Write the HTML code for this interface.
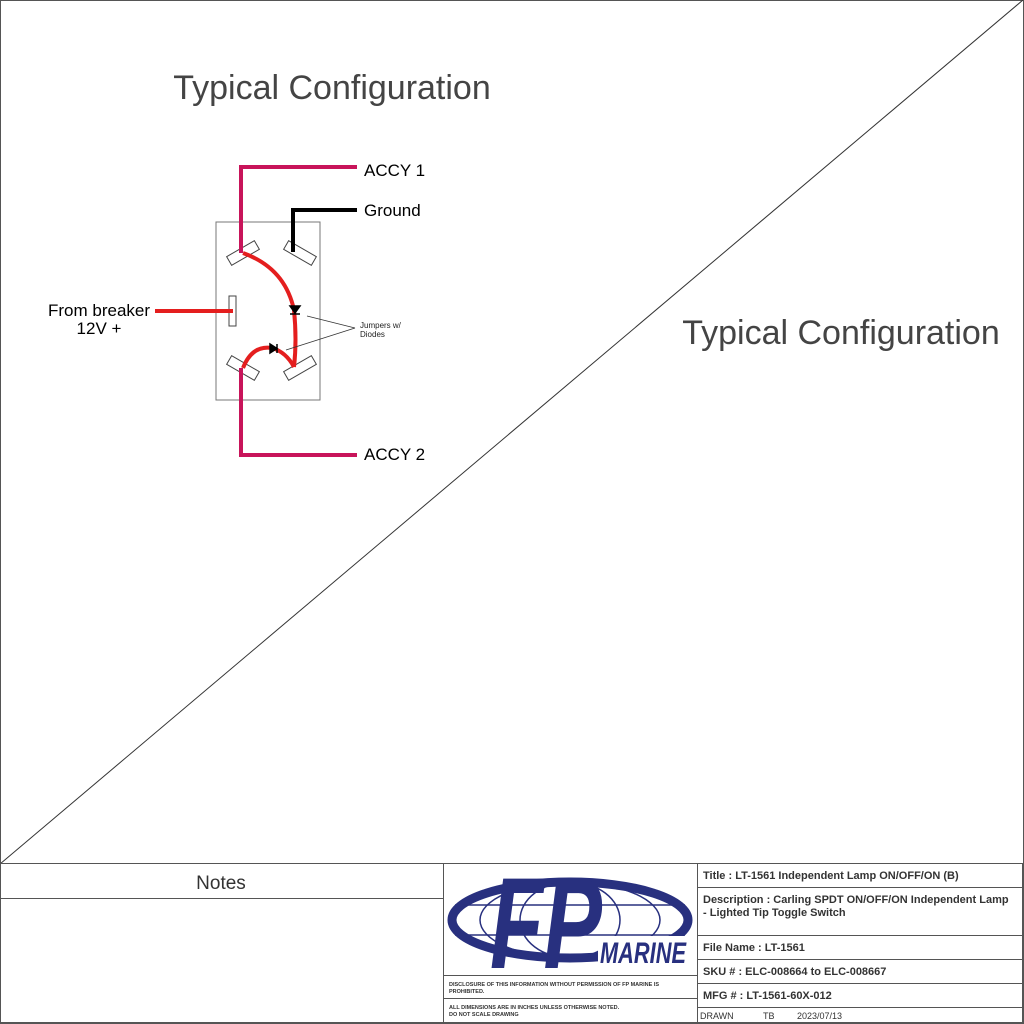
<!DOCTYPE html>
<html><head><style>body{margin:0;background:#fff}svg{display:block}text{font-family:"Liberation Sans",Arial,sans-serif}</style></head><body>
<svg width="1024" height="1024" viewBox="0 0 1024 1024" xmlns="http://www.w3.org/2000/svg">
<rect x="0.5" y="0.5" width="1023" height="1023" fill="#fff" stroke="#555"/>
<line x1="0" y1="864" x2="1023" y2="0" stroke="#333" stroke-width="1"/>
<text x="332" y="99" font-size="34" fill="#444" text-anchor="middle">Typical Configuration</text>
<text x="841" y="344" font-size="34" fill="#444" text-anchor="middle">Typical Configuration</text>
<!-- switch -->
<rect x="216" y="222" width="104" height="178" fill="none" stroke="#777"/>
<g fill="#fff" stroke="#444" stroke-width="1">
<rect x="-16" y="-5" width="32" height="10" transform="translate(243,253) rotate(-30)"/>
<rect x="-16" y="-5" width="32" height="10" transform="translate(300,253) rotate(30)"/>
<rect x="-16" y="-5" width="32" height="10" transform="translate(243,368) rotate(30)"/>
<rect x="-16" y="-5" width="32" height="10" transform="translate(300,368) rotate(-30)"/>
<rect x="229" y="296" width="7" height="30"/>
</g>
<polyline points="357,167 241,167 241,253" fill="none" stroke="#c8145a" stroke-width="4"/>
<polyline points="357,455 241,455 241,368" fill="none" stroke="#c8145a" stroke-width="4"/>
<polyline points="357,210 293,210 293,252" fill="none" stroke="#000" stroke-width="4"/>
<line x1="155" y1="311" x2="233" y2="311" stroke="#e41e1e" stroke-width="4"/>
<path d="M243,253 Q285,268 294,310 Q297,340 294,367" fill="none" stroke="#e41e1e" stroke-width="4"/>
<path d="M243,368 Q252,345 272,348 Q286,352 294,367" fill="none" stroke="#e41e1e" stroke-width="4"/>
<path d="M290,306 L300,306 L295,313 Z M290,314 L300,314" fill="#000" stroke="#000" stroke-width="1.5"/>
<path d="M270,344 L270,353 L277,348.5 Z M277,344 L277,353" fill="#000" stroke="#000" stroke-width="1.5"/>
<line x1="307" y1="316" x2="355" y2="328" stroke="#333" stroke-width="0.8"/>
<line x1="286" y1="350" x2="355" y2="328" stroke="#333" stroke-width="0.8"/>
<text x="360" y="328" font-size="8" fill="#222">Jumpers w/</text>
<text x="360" y="337" font-size="8" fill="#222">Diodes</text>
<text x="364" y="176" font-size="17">ACCY 1</text>
<text x="364" y="216" font-size="17">Ground</text>
<text x="364" y="460" font-size="17">ACCY 2</text>
<text x="99" y="316" font-size="17" text-anchor="middle">From breaker</text>
<text x="99" y="334" font-size="17" text-anchor="middle">12V +</text>
<!-- title block -->
<g fill="none" stroke="#555" stroke-width="1">
<rect x="0.5" y="863.5" width="1022" height="159"/>
<line x1="0" y1="898.5" x2="443" y2="898.5"/>
<line x1="443.5" y1="863" x2="443.5" y2="1023"/>
<line x1="697.5" y1="863" x2="697.5" y2="1023"/>
<line x1="443" y1="975.5" x2="697" y2="975.5"/>
<line x1="443" y1="998.5" x2="697" y2="998.5"/>
<line x1="697" y1="887.5" x2="1023" y2="887.5"/>
<line x1="697" y1="935.5" x2="1023" y2="935.5"/>
<line x1="697" y1="959.5" x2="1023" y2="959.5"/>
<line x1="697" y1="983.5" x2="1023" y2="983.5"/>
<line x1="697" y1="1007.5" x2="1023" y2="1007.5"/>
</g>
<text x="221" y="889" font-size="19" fill="#333" text-anchor="middle">Notes</text>
<!-- logo -->
<g stroke="#28307f" fill="none">
<ellipse cx="570" cy="920" rx="118" ry="38" stroke-width="9"/>
<ellipse cx="570" cy="920" rx="90" ry="38" stroke-width="1.5"/>
<ellipse cx="570" cy="920" rx="50" ry="38" stroke-width="1.5"/>
<line x1="455" y1="905" x2="685" y2="905" stroke-width="1.5"/>
<line x1="455" y1="935" x2="685" y2="935" stroke-width="1.5"/>
</g>
<text x="0" y="0" font-size="100" font-weight="bold" font-style="italic" fill="#28307f" text-anchor="middle" textLength="112" lengthAdjust="spacingAndGlyphs" transform="translate(546,968) scale(1,1.3)">FP</text>
<rect x="598" y="936" width="90" height="30" fill="#fff"/>
<text x="643" y="963" font-size="30" font-weight="bold" font-style="italic" fill="#28307f" text-anchor="middle" textLength="86" lengthAdjust="spacingAndGlyphs">MARINE</text>
<g font-size="5.5" font-weight="bold" fill="#333">
<text x="449" y="986">DISCLOSURE OF THIS INFORMATION WITHOUT PERMISSION OF FP MARINE IS</text>
<text x="449" y="993">PROHIBITED.</text>
<text x="449" y="1009">ALL DIMENSIONS ARE IN INCHES UNLESS OTHERWISE NOTED.</text>
<text x="449" y="1016">DO NOT SCALE DRAWING</text>
</g>
<g font-size="11" font-weight="bold" fill="#333">
<text x="703" y="879">Title :  LT-1561 Independent Lamp ON/OFF/ON (B)</text>
<text x="703" y="903">Description : Carling SPDT ON/OFF/ON Independent Lamp</text>
<text x="703" y="916">- Lighted Tip Toggle Switch</text>
<text x="703" y="951">File Name : LT-1561</text>
<text x="703" y="975">SKU # : ELC-008664 to ELC-008667</text>
<text x="703" y="999">MFG # : LT-1561-60X-012</text>
</g>
<g font-size="9" fill="#333">
<text x="700" y="1019">DRAWN</text>
<text x="763" y="1019">TB</text>
<text x="797" y="1019">2023/07/13</text>
</g>
</svg>
</body></html>
